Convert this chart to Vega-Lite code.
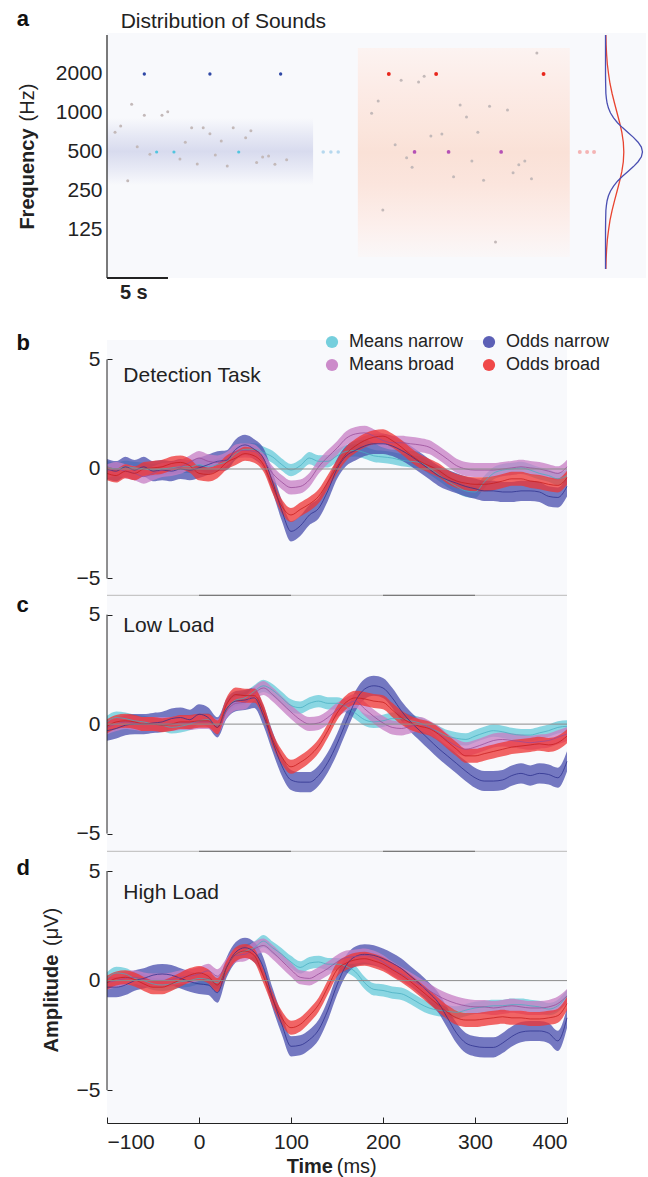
{
"$schema":"https://vega.github.io/schema/vega-lite/v6.json",
"autosize":{"type":"none"},
"padding":{"left":107,"top":33,"right":541,"bottom":1144},
"background":"white",
"config":{"font":"Liberation Sans","view":{"stroke":null},
"axis":{"labelFont":"Liberation Sans","labelColor":"#222","domainColor":"#222","tickColor":"#222","grid":false},
"legend":{"orient":"none","legendX":216,"legendY":300,"columns":2,"symbolType":"circle","symbolSize":150,"symbolStrokeWidth":0,"symbolOpacity":0.9,"labelFontSize":18,"labelColor":"#222","labelOffset":8,"columnPadding":16,"rowPadding":5,"padding":0,"labelLimit":300}},
"datasets":{
"err":[{"s":"Means narrow","e":0.28},{"s":"Odds narrow","e":0.46},{"s":"Means broad","e":0.32},{"s":"Odds broad","e":0.32}],
"dots":[
{"t":0.66,"f":709,"k":"tone"},{"t":1.12,"f":794,"k":"tone"},{"t":1.7,"f":300,"k":"tone"},{"t":2.02,"f":1166,"k":"tone"},{"t":2.48,"f":549,"k":"tone"},{"t":3.06,"f":960,"k":"tone"},{"t":3.52,"f":480,"k":"tone"},{"t":4.51,"f":960,"k":"tone"},{"t":4.98,"f":1024,"k":"tone"},{"t":5.98,"f":442,"k":"tone"},{"t":6.42,"f":594,"k":"tone"},{"t":6.94,"f":770,"k":"tone"},{"t":7.4,"f":404,"k":"tone"},{"t":7.89,"f":770,"k":"tone"},{"t":8.44,"f":692,"k":"tone"},{"t":8.88,"f":474,"k":"tone"},{"t":9.37,"f":608,"k":"tone"},{"t":9.86,"f":390,"k":"tone"},{"t":10.35,"f":770,"k":"tone"},{"t":11.37,"f":644,"k":"tone"},{"t":11.8,"f":730,"k":"tone"},{"t":12.27,"f":414,"k":"tone"},{"t":12.76,"f":458,"k":"tone"},{"t":13.25,"f":466,"k":"tone"},{"t":13.77,"f":402,"k":"tone"},{"t":14.73,"f":436,"k":"tone"},
{"t":4.07,"f":500,"k":"mean narrow"},{"t":5.49,"f":500,"k":"mean narrow"},{"t":10.8,"f":500,"k":"mean narrow"},
{"t":3.06,"f":2000,"k":"odd narrow"},{"t":8.44,"f":2000,"k":"odd narrow"},{"t":14.24,"f":2000,"k":"odd narrow"},
{"t":17.73,"f":500,"k":"more narrow"},{"t":18.36,"f":500,"k":"more narrow"},{"t":18.96,"f":500,"k":"more narrow"},
{"t":35.25,"f":2904,"k":"tone"},{"t":24.12,"f":1788,"k":"tone"},{"t":25.55,"f":1736,"k":"tone"},{"t":26.01,"f":1920,"k":"tone"},{"t":22.24,"f":1238,"k":"tone"},{"t":21.7,"f":994,"k":"tone"},{"t":28.96,"f":1152,"k":"tone"},{"t":31.37,"f":1126,"k":"tone"},{"t":32.84,"f":1054,"k":"tone"},{"t":29.48,"f":931,"k":"tone"},{"t":26.56,"f":664,"k":"tone"},{"t":27.46,"f":688,"k":"tone"},{"t":30.41,"f":709,"k":"tone"},{"t":23.63,"f":569,"k":"tone"},{"t":24.57,"f":452,"k":"tone"},{"t":25.02,"f":381,"k":"tone"},{"t":29.92,"f":426,"k":"tone"},{"t":28.42,"f":322,"k":"tone"},{"t":30.88,"f":302,"k":"tone"},{"t":33.3,"f":346,"k":"tone"},{"t":33.77,"f":399,"k":"tone"},{"t":34.26,"f":426,"k":"tone"},{"t":34.81,"f":311,"k":"tone"},{"t":22.62,"f":178,"k":"tone"},{"t":31.86,"f":101,"k":"tone"},
{"t":25.22,"f":500,"k":"mean broad"},{"t":28.01,"f":500,"k":"mean broad"},{"t":32.32,"f":500,"k":"mean broad"},
{"t":23.11,"f":2000,"k":"odd broad"},{"t":26.99,"f":2000,"k":"odd broad"},{"t":35.8,"f":2000,"k":"odd broad"},
{"t":38.77,"f":500,"k":"more broad"},{"t":39.37,"f":500,"k":"more broad"},{"t":39.94,"f":500,"k":"more broad"}],
"dens":[
{"c":"narrow","f":62.5,"t":40.88},{"c":"narrow","f":74.3,"t":40.88},{"c":"narrow","f":88.4,"t":40.88},{"c":"narrow","f":105.1,"t":40.88},{"c":"narrow","f":125,"t":40.88},{"c":"narrow","f":148.7,"t":40.89},{"c":"narrow","f":176.8,"t":40.91},{"c":"narrow","f":192.8,"t":40.95},{"c":"narrow","f":210.2,"t":41.01},{"c":"narrow","f":229.3,"t":41.12},{"c":"narrow","f":250,"t":41.29},{"c":"narrow","f":272.6,"t":41.54},{"c":"narrow","f":297.3,"t":41.86},{"c":"narrow","f":324.2,"t":42.27},{"c":"narrow","f":353.6,"t":42.72},{"c":"narrow","f":385.6,"t":43.17},{"c":"narrow","f":420.4,"t":43.55},{"c":"narrow","f":458.5,"t":43.82},{"c":"narrow","f":500,"t":43.91},{"c":"narrow","f":545.3,"t":43.82},{"c":"narrow","f":594.6,"t":43.55},{"c":"narrow","f":648.4,"t":43.17},{"c":"narrow","f":707.1,"t":42.72},{"c":"narrow","f":771.1,"t":42.27},{"c":"narrow","f":840.9,"t":41.86},{"c":"narrow","f":917,"t":41.54},{"c":"narrow","f":1000,"t":41.29},{"c":"narrow","f":1090.5,"t":41.12},{"c":"narrow","f":1189.2,"t":41.01},{"c":"narrow","f":1296.8,"t":40.95},{"c":"narrow","f":1414.2,"t":40.91},{"c":"narrow","f":1681.8,"t":40.89},{"c":"narrow","f":2000,"t":40.88},{"c":"narrow","f":2378.4,"t":40.88},{"c":"narrow","f":2828.4,"t":40.88},{"c":"narrow","f":3363.6,"t":40.88},{"c":"narrow","f":4000,"t":40.88},
{"c":"broad","f":62.5,"t":40.91},{"c":"broad","f":74.3,"t":40.93},{"c":"broad","f":88.4,"t":40.97},{"c":"broad","f":105.1,"t":41.03},{"c":"broad","f":125,"t":41.13},{"c":"broad","f":148.7,"t":41.25},{"c":"broad","f":176.8,"t":41.42},{"c":"broad","f":210.2,"t":41.62},{"c":"broad","f":250,"t":41.83},{"c":"broad","f":297.3,"t":42.04},{"c":"broad","f":353.6,"t":42.22},{"c":"broad","f":420.4,"t":42.34},{"c":"broad","f":500,"t":42.38},{"c":"broad","f":594.6,"t":42.34},{"c":"broad","f":707.1,"t":42.22},{"c":"broad","f":840.9,"t":42.04},{"c":"broad","f":1000,"t":41.83},{"c":"broad","f":1189.2,"t":41.62},{"c":"broad","f":1414.2,"t":41.42},{"c":"broad","f":1681.8,"t":41.25},{"c":"broad","f":2000,"t":41.13},{"c":"broad","f":2378.4,"t":41.03},{"c":"broad","f":2828.4,"t":40.97},{"c":"broad","f":3363.6,"t":40.93},{"c":"broad","f":4000,"t":40.91}],
"erp":[
{"p":"b","t":-100,"Means narrow":0.1,"Odds narrow":0,"Means broad":-0.1,"Odds broad":-0.2},
{"p":"b","t":-90,"Means narrow":0,"Odds narrow":-0.1,"Means broad":0,"Odds broad":-0.3},
{"p":"b","t":-80,"Means narrow":0.1,"Odds narrow":0.1,"Means broad":-0.1,"Odds broad":-0.1},
{"p":"b","t":-70,"Means narrow":0.05,"Odds narrow":-0.05,"Means broad":-0.2,"Odds broad":-0.2},
{"p":"b","t":-60,"Means narrow":0,"Odds narrow":0.1,"Means broad":-0.35,"Odds broad":0},
{"p":"b","t":-50,"Means narrow":-0.05,"Odds narrow":-0.1,"Means broad":-0.2,"Odds broad":0.05},
{"p":"b","t":-40,"Means narrow":0,"Odds narrow":-0.05,"Means broad":-0.05,"Odds broad":0.1},
{"p":"b","t":-30,"Means narrow":0.05,"Odds narrow":-0.1,"Means broad":0,"Odds broad":0.25},
{"p":"b","t":-20,"Means narrow":0.1,"Odds narrow":0,"Means broad":0.1,"Odds broad":0.3},
{"p":"b","t":-10,"Means narrow":0.1,"Odds narrow":-0.05,"Means broad":0.3,"Odds broad":0.15},
{"p":"b","t":0,"Means narrow":0.2,"Odds narrow":0.05,"Means broad":0.5,"Odds broad":-0.2},
{"p":"b","t":10,"Means narrow":0.1,"Odds narrow":0.2,"Means broad":0.35,"Odds broad":-0.25},
{"p":"b","t":20,"Means narrow":0.2,"Odds narrow":0.35,"Means broad":0.3,"Odds broad":-0.1},
{"p":"b","t":30,"Means narrow":0.35,"Odds narrow":0.4,"Means broad":0.45,"Odds broad":0.3},
{"p":"b","t":40,"Means narrow":0.7,"Odds narrow":0.9,"Means broad":0.8,"Odds broad":0.5},
{"p":"b","t":50,"Means narrow":0.9,"Odds narrow":1.1,"Means broad":0.85,"Odds broad":0.7},
{"p":"b","t":60,"Means narrow":0.9,"Odds narrow":0.9,"Means broad":0.8,"Odds broad":0.6},
{"p":"b","t":70,"Means narrow":0.75,"Odds narrow":0.5,"Means broad":0.4,"Odds broad":0.2},
{"p":"b","t":80,"Means narrow":0.55,"Odds narrow":-0.6,"Means broad":-0.2,"Odds broad":-0.8},
{"p":"b","t":90,"Means narrow":0.2,"Odds narrow":-1.9,"Means broad":-0.6,"Odds broad":-1.7},
{"p":"b","t":100,"Means narrow":-0.05,"Odds narrow":-2.85,"Means broad":-0.85,"Odds broad":-2.1},
{"p":"b","t":110,"Means narrow":0.15,"Odds narrow":-2.6,"Means broad":-0.8,"Odds broad":-1.85},
{"p":"b","t":120,"Means narrow":0.5,"Odds narrow":-2.1,"Means broad":-0.5,"Odds broad":-1.6},
{"p":"b","t":130,"Means narrow":0.35,"Odds narrow":-1.8,"Means broad":0.1,"Odds broad":-1.25},
{"p":"b","t":140,"Means narrow":0.35,"Odds narrow":-1,"Means broad":0.55,"Odds broad":-0.6},
{"p":"b","t":150,"Means narrow":0.6,"Odds narrow":0,"Means broad":0.95,"Odds broad":0.1},
{"p":"b","t":160,"Means narrow":0.8,"Odds narrow":0.6,"Means broad":1.4,"Odds broad":0.7},
{"p":"b","t":170,"Means narrow":0.85,"Odds narrow":0.85,"Means broad":1.6,"Odds broad":1.05},
{"p":"b","t":180,"Means narrow":0.75,"Odds narrow":1.05,"Means broad":1.65,"Odds broad":1.3},
{"p":"b","t":190,"Means narrow":0.6,"Odds narrow":1.15,"Means broad":1.5,"Odds broad":1.45},
{"p":"b","t":200,"Means narrow":0.55,"Odds narrow":1.15,"Means broad":1.3,"Odds broad":1.5},
{"p":"b","t":210,"Means narrow":0.5,"Odds narrow":1.05,"Means broad":1.2,"Odds broad":1.3},
{"p":"b","t":220,"Means narrow":0.4,"Odds narrow":0.85,"Means broad":1.2,"Odds broad":1},
{"p":"b","t":230,"Means narrow":0.35,"Odds narrow":0.6,"Means broad":1.15,"Odds broad":0.65},
{"p":"b","t":240,"Means narrow":0.3,"Odds narrow":0.3,"Means broad":1.1,"Odds broad":0.35},
{"p":"b","t":250,"Means narrow":0.05,"Odds narrow":0,"Means broad":1,"Odds broad":0.15},
{"p":"b","t":260,"Means narrow":-0.25,"Odds narrow":-0.3,"Means broad":0.75,"Odds broad":-0.05},
{"p":"b","t":270,"Means narrow":-0.55,"Odds narrow":-0.5,"Means broad":0.45,"Odds broad":-0.35},
{"p":"b","t":280,"Means narrow":-0.8,"Odds narrow":-0.65,"Means broad":0.15,"Odds broad":-0.55},
{"p":"b","t":290,"Means narrow":-1,"Odds narrow":-0.8,"Means broad":0,"Odds broad":-0.65},
{"p":"b","t":300,"Means narrow":-1.05,"Odds narrow":-0.9,"Means broad":-0.05,"Odds broad":-0.7},
{"p":"b","t":310,"Means narrow":-0.6,"Odds narrow":-1,"Means broad":-0.05,"Odds broad":-0.7},
{"p":"b","t":320,"Means narrow":-0.2,"Odds narrow":-1,"Means broad":-0.05,"Odds broad":-0.65},
{"p":"b","t":330,"Means narrow":-0.05,"Odds narrow":-1.05,"Means broad":0,"Odds broad":-0.55},
{"p":"b","t":340,"Means narrow":0,"Odds narrow":-1.05,"Means broad":0.05,"Odds broad":-0.45},
{"p":"b","t":350,"Means narrow":0.05,"Odds narrow":-1,"Means broad":0.1,"Odds broad":-0.45},
{"p":"b","t":360,"Means narrow":-0.05,"Odds narrow":-1,"Means broad":0.05,"Odds broad":-0.55},
{"p":"b","t":370,"Means narrow":-0.2,"Odds narrow":-1.05,"Means broad":0,"Odds broad":-0.6},
{"p":"b","t":380,"Means narrow":-0.3,"Odds narrow":-1.25,"Means broad":-0.1,"Odds broad":-0.7},
{"p":"b","t":390,"Means narrow":-0.45,"Odds narrow":-1.3,"Means broad":-0.2,"Odds broad":-0.75},
{"p":"b","t":400,"Means narrow":-0.3,"Odds narrow":-0.8,"Means broad":0.1,"Odds broad":-0.4},
{"p":"c","t":-100,"Means narrow":0.1,"Odds narrow":-0.3,"Means broad":-0.15,"Odds broad":-0.1},
{"p":"c","t":-90,"Means narrow":0.3,"Odds narrow":-0.2,"Means broad":0,"Odds broad":0.1},
{"p":"c","t":-80,"Means narrow":0.25,"Odds narrow":-0.05,"Means broad":0.1,"Odds broad":0.15},
{"p":"c","t":-70,"Means narrow":0.15,"Odds narrow":0,"Means broad":0.05,"Odds broad":0.1},
{"p":"c","t":-60,"Means narrow":0.1,"Odds narrow":0,"Means broad":0,"Odds broad":0},
{"p":"c","t":-50,"Means narrow":0,"Odds narrow":0.05,"Means broad":0,"Odds broad":0},
{"p":"c","t":-40,"Means narrow":-0.05,"Odds narrow":0.1,"Means broad":0,"Odds broad":-0.05},
{"p":"c","t":-30,"Means narrow":-0.15,"Odds narrow":0.25,"Means broad":0,"Odds broad":0},
{"p":"c","t":-20,"Means narrow":-0.1,"Odds narrow":0.3,"Means broad":0.05,"Odds broad":0.1},
{"p":"c","t":-10,"Means narrow":0,"Odds narrow":0.2,"Means broad":0.05,"Odds broad":0.1},
{"p":"c","t":0,"Means narrow":0.15,"Odds narrow":0.45,"Means broad":0.1,"Odds broad":0.15},
{"p":"c","t":10,"Means narrow":0.2,"Odds narrow":0.3,"Means broad":0.1,"Odds broad":0.15},
{"p":"c","t":20,"Means narrow":-0.1,"Odds narrow":-0.15,"Means broad":-0.1,"Odds broad":-0.15},
{"p":"c","t":30,"Means narrow":0.7,"Odds narrow":0.7,"Means broad":0.6,"Odds broad":0.9},
{"p":"c","t":40,"Means narrow":1.1,"Odds narrow":1.05,"Means broad":0.95,"Odds broad":1.35},
{"p":"c","t":50,"Means narrow":1.2,"Odds narrow":1.1,"Means broad":1,"Odds broad":1.3},
{"p":"c","t":60,"Means narrow":1.5,"Odds narrow":1.2,"Means broad":1.4,"Odds broad":1.3},
{"p":"c","t":70,"Means narrow":1.75,"Odds narrow":0.4,"Means broad":1.65,"Odds broad":0.6},
{"p":"c","t":80,"Means narrow":1.55,"Odds narrow":-0.8,"Means broad":1.35,"Odds broad":-0.7},
{"p":"c","t":90,"Means narrow":1.2,"Odds narrow":-1.9,"Means broad":0.95,"Odds broad":-1.5},
{"p":"c","t":100,"Means narrow":0.85,"Odds narrow":-2.55,"Means broad":0.55,"Odds broad":-1.95},
{"p":"c","t":110,"Means narrow":0.75,"Odds narrow":-2.65,"Means broad":0.2,"Odds broad":-1.75},
{"p":"c","t":120,"Means narrow":0.95,"Odds narrow":-2.65,"Means broad":0,"Odds broad":-1.45},
{"p":"c","t":130,"Means narrow":1.05,"Odds narrow":-2.35,"Means broad":0.05,"Odds broad":-1},
{"p":"c","t":140,"Means narrow":0.95,"Odds narrow":-1.75,"Means broad":0.3,"Odds broad":-0.3},
{"p":"c","t":150,"Means narrow":0.95,"Odds narrow":-0.9,"Means broad":0.65,"Odds broad":0.5},
{"p":"c","t":160,"Means narrow":0.8,"Odds narrow":0.1,"Means broad":0.9,"Odds broad":1},
{"p":"c","t":170,"Means narrow":0.5,"Odds narrow":1.05,"Means broad":1.05,"Odds broad":1.2},
{"p":"c","t":180,"Means narrow":0.2,"Odds narrow":1.6,"Means broad":0.7,"Odds broad":1.15},
{"p":"c","t":190,"Means narrow":0.1,"Odds narrow":1.75,"Means broad":0.35,"Odds broad":1.05},
{"p":"c","t":200,"Means narrow":0.15,"Odds narrow":1.65,"Means broad":0.05,"Odds broad":1},
{"p":"c","t":210,"Means narrow":0.25,"Odds narrow":1.2,"Means broad":-0.15,"Odds broad":0.65},
{"p":"c","t":220,"Means narrow":0.25,"Odds narrow":0.6,"Means broad":-0.2,"Odds broad":0.3},
{"p":"c","t":230,"Means narrow":0.15,"Odds narrow":0.1,"Means broad":-0.1,"Odds broad":0.05},
{"p":"c","t":240,"Means narrow":0.05,"Odds narrow":-0.3,"Means broad":0,"Odds broad":-0.1},
{"p":"c","t":250,"Means narrow":-0.15,"Odds narrow":-0.7,"Means broad":-0.15,"Odds broad":-0.2},
{"p":"c","t":260,"Means narrow":-0.35,"Odds narrow":-1.1,"Means broad":-0.4,"Odds broad":-0.45},
{"p":"c","t":270,"Means narrow":-0.55,"Odds narrow":-1.45,"Means broad":-0.75,"Odds broad":-0.8},
{"p":"c","t":280,"Means narrow":-0.65,"Odds narrow":-1.8,"Means broad":-1,"Odds broad":-1.15},
{"p":"c","t":290,"Means narrow":-0.7,"Odds narrow":-2.15,"Means broad":-1.15,"Odds broad":-1.45},
{"p":"c","t":300,"Means narrow":-0.55,"Odds narrow":-2.45,"Means broad":-1.05,"Odds broad":-1.45},
{"p":"c","t":310,"Means narrow":-0.4,"Odds narrow":-2.6,"Means broad":-0.9,"Odds broad":-1.35},
{"p":"c","t":320,"Means narrow":-0.3,"Odds narrow":-2.6,"Means broad":-0.75,"Odds broad":-1.25},
{"p":"c","t":330,"Means narrow":-0.35,"Odds narrow":-2.55,"Means broad":-0.7,"Odds broad":-1.15},
{"p":"c","t":340,"Means narrow":-0.45,"Odds narrow":-2.35,"Means broad":-0.75,"Odds broad":-1.05},
{"p":"c","t":350,"Means narrow":-0.5,"Odds narrow":-2.25,"Means broad":-0.8,"Odds broad":-1},
{"p":"c","t":360,"Means narrow":-0.5,"Odds narrow":-2.35,"Means broad":-0.85,"Odds broad":-0.95},
{"p":"c","t":370,"Means narrow":-0.4,"Odds narrow":-2.25,"Means broad":-0.8,"Odds broad":-0.9},
{"p":"c","t":380,"Means narrow":-0.3,"Odds narrow":-2.3,"Means broad":-0.75,"Odds broad":-0.95},
{"p":"c","t":390,"Means narrow":-0.15,"Odds narrow":-2.45,"Means broad":-0.6,"Odds broad":-0.85},
{"p":"c","t":400,"Means narrow":-0.1,"Odds narrow":-1.7,"Means broad":-0.45,"Odds broad":-0.55},
{"p":"d","t":-100,"Means narrow":0.1,"Odds narrow":-0.3,"Means broad":-0.1,"Odds broad":-0.1},
{"p":"d","t":-90,"Means narrow":0.35,"Odds narrow":-0.3,"Means broad":0,"Odds broad":0.1},
{"p":"d","t":-80,"Means narrow":0.3,"Odds narrow":-0.2,"Means broad":0.1,"Odds broad":0.15},
{"p":"d","t":-70,"Means narrow":0.1,"Odds narrow":0,"Means broad":0.15,"Odds broad":0.05},
{"p":"d","t":-60,"Means narrow":0,"Odds narrow":0.1,"Means broad":0.05,"Odds broad":-0.15},
{"p":"d","t":-50,"Means narrow":-0.15,"Odds narrow":0.25,"Means broad":0,"Odds broad":-0.3},
{"p":"d","t":-40,"Means narrow":-0.2,"Odds narrow":0.3,"Means broad":0,"Odds broad":-0.3},
{"p":"d","t":-30,"Means narrow":-0.15,"Odds narrow":0.25,"Means broad":0.05,"Odds broad":-0.15},
{"p":"d","t":-20,"Means narrow":-0.05,"Odds narrow":0.1,"Means broad":0.15,"Odds broad":0.05},
{"p":"d","t":-10,"Means narrow":0,"Odds narrow":-0.05,"Means broad":0.2,"Odds broad":0.25},
{"p":"d","t":0,"Means narrow":0.1,"Odds narrow":-0.15,"Means broad":0.3,"Odds broad":0.35},
{"p":"d","t":10,"Means narrow":0.05,"Odds narrow":-0.2,"Means broad":0.45,"Odds broad":0.2},
{"p":"d","t":20,"Means narrow":-0.1,"Odds narrow":-0.55,"Means broad":0.2,"Odds broad":-0.2},
{"p":"d","t":30,"Means narrow":0.6,"Odds narrow":0.6,"Means broad":0.7,"Odds broad":0.6},
{"p":"d","t":40,"Means narrow":1.2,"Odds narrow":1.3,"Means broad":1.15,"Odds broad":1.2},
{"p":"d","t":50,"Means narrow":1.35,"Odds narrow":1.5,"Means broad":1.2,"Odds broad":1.35},
{"p":"d","t":60,"Means narrow":1.5,"Odds narrow":1.3,"Means broad":1.45,"Odds broad":1.15},
{"p":"d","t":70,"Means narrow":1.8,"Odds narrow":0.6,"Means broad":1.6,"Odds broad":0.2},
{"p":"d","t":80,"Means narrow":1.5,"Odds narrow":-0.8,"Means broad":1.3,"Odds broad":-0.85},
{"p":"d","t":90,"Means narrow":1.2,"Odds narrow":-2,"Means broad":0.9,"Odds broad":-1.7},
{"p":"d","t":100,"Means narrow":0.85,"Odds narrow":-3,"Means broad":0.5,"Odds broad":-2.15},
{"p":"d","t":110,"Means narrow":0.6,"Odds narrow":-2.95,"Means broad":0.15,"Odds broad":-2},
{"p":"d","t":120,"Means narrow":0.8,"Odds narrow":-2.7,"Means broad":0.1,"Odds broad":-1.6},
{"p":"d","t":130,"Means narrow":0.85,"Odds narrow":-2.25,"Means broad":0.3,"Odds broad":-1.1},
{"p":"d","t":140,"Means narrow":0.75,"Odds narrow":-1.35,"Means broad":0.55,"Odds broad":-0.3},
{"p":"d","t":150,"Means narrow":0.75,"Odds narrow":-0.2,"Means broad":0.85,"Odds broad":0.5},
{"p":"d","t":160,"Means narrow":0.65,"Odds narrow":0.7,"Means broad":1.05,"Odds broad":0.8},
{"p":"d","t":170,"Means narrow":0.4,"Odds narrow":1.1,"Means broad":1.1,"Odds broad":0.95},
{"p":"d","t":180,"Means narrow":-0.1,"Odds narrow":1.2,"Means broad":1.15,"Odds broad":1},
{"p":"d","t":190,"Means narrow":-0.4,"Odds narrow":1.15,"Means broad":1.05,"Odds broad":0.9},
{"p":"d","t":200,"Means narrow":-0.45,"Odds narrow":1,"Means broad":0.85,"Odds broad":0.75},
{"p":"d","t":210,"Means narrow":-0.55,"Odds narrow":0.8,"Means broad":0.55,"Odds broad":0.5},
{"p":"d","t":220,"Means narrow":-0.6,"Odds narrow":0.55,"Means broad":0.3,"Odds broad":0.25},
{"p":"d","t":230,"Means narrow":-0.8,"Odds narrow":0.2,"Means broad":0.05,"Odds broad":-0.05},
{"p":"d","t":240,"Means narrow":-1.05,"Odds narrow":-0.15,"Means broad":-0.2,"Odds broad":-0.4},
{"p":"d","t":250,"Means narrow":-1.25,"Odds narrow":-0.55,"Means broad":-0.45,"Odds broad":-0.75},
{"p":"d","t":260,"Means narrow":-1.35,"Odds narrow":-1,"Means broad":-0.7,"Odds broad":-1.1},
{"p":"d","t":270,"Means narrow":-1.4,"Odds narrow":-1.7,"Means broad":-0.9,"Odds broad":-1.45},
{"p":"d","t":280,"Means narrow":-1.45,"Odds narrow":-2.4,"Means broad":-1.05,"Odds broad":-1.7},
{"p":"d","t":290,"Means narrow":-1.35,"Odds narrow":-2.85,"Means broad":-1.15,"Odds broad":-1.8},
{"p":"d","t":300,"Means narrow":-1.25,"Odds narrow":-3,"Means broad":-1.2,"Odds broad":-1.8},
{"p":"d","t":310,"Means narrow":-1.2,"Odds narrow":-3.05,"Means broad":-1.2,"Odds broad":-1.75},
{"p":"d","t":320,"Means narrow":-1.15,"Odds narrow":-3.05,"Means broad":-1.25,"Odds broad":-1.7},
{"p":"d","t":330,"Means narrow":-1.15,"Odds narrow":-2.85,"Means broad":-1.2,"Odds broad":-1.65},
{"p":"d","t":340,"Means narrow":-1.1,"Odds narrow":-2.55,"Means broad":-1.15,"Odds broad":-1.7},
{"p":"d","t":350,"Means narrow":-1.1,"Odds narrow":-2.35,"Means broad":-1.2,"Odds broad":-1.7},
{"p":"d","t":360,"Means narrow":-1.15,"Odds narrow":-2.3,"Means broad":-1.25,"Odds broad":-1.75},
{"p":"d","t":370,"Means narrow":-1.2,"Odds narrow":-2.3,"Means broad":-1.25,"Odds broad":-1.75},
{"p":"d","t":380,"Means narrow":-1.3,"Odds narrow":-2.4,"Means broad":-1.2,"Odds broad":-1.7},
{"p":"d","t":390,"Means narrow":-1.15,"Odds narrow":-2.75,"Means broad":-1.05,"Odds broad":-1.6},
{"p":"d","t":400,"Means narrow":-0.7,"Odds narrow":-1.7,"Means broad":-0.7,"Odds broad":-1.05}
]},
"spacing":0,
"bounds":"flush",
"vconcat":[
{"width":539,"height":307,
"layer":[
{"data":{"values":[{}]},"mark":{"type":"rect","color":"#f8f9fc"},
 "encoding":{"x":{"datum":0,"type":"quantitative","scale":{"domain":[0,44.2],"nice":false,"zero":false},"axis":null},"x2":{"datum":44.2},
 "y":{"datum":53.3,"type":"quantitative","scale":{"type":"log","base":2,"domain":[17.67,4145],"nice":false},"axis":{"values":[125,250,500,1000,2000],"format":"d","domain":false,"ticks":false,"labelFontSize":21,"labelPadding":5,"title":null}},"y2":{"datum":4145}}},
{"data":{"values":[{}]},"mark":{"type":"rect","fill":{"gradient":"linear","x1":0,"y1":0,"x2":0,"y2":1,"stops":[{"offset":0,"color":"#f8f9fc"},{"offset":0.25,"color":"#e7e9f5"},{"offset":0.5,"color":"#d8dbee"},{"offset":0.75,"color":"#e7e9f5"},{"offset":1,"color":"#f8f9fc"}]}},
 "encoding":{"x":{"datum":0,"type":"quantitative"},"x2":{"datum":16.9},"y":{"datum":278,"type":"quantitative"},"y2":{"datum":915}}},
{"data":{"values":[{}]},"mark":{"type":"rect","fill":{"gradient":"linear","x1":0,"y1":0,"x2":0,"y2":1,"stops":[{"offset":0,"color":"#fcf3f1"},{"offset":0.2,"color":"#fcebe6"},{"offset":0.4,"color":"#fbe5dc"},{"offset":0.5,"color":"#fae1d7"},{"offset":0.65,"color":"#fbe5dd"},{"offset":0.85,"color":"#fcefec"},{"offset":1,"color":"#faf7f8"}]}},
 "encoding":{"x":{"datum":20.57,"type":"quantitative"},"x2":{"datum":37.95},"y":{"datum":77.4,"type":"quantitative"},"y2":{"datum":3175}}},
{"data":{"values":[{}]},"mark":{"type":"rule","color":"#222","strokeWidth":1.2},
 "encoding":{"x":{"datum":0,"type":"quantitative"},"y":{"datum":53.3,"type":"quantitative"},"y2":{"datum":4000}}},
{"data":{"values":[{}]},"mark":{"type":"rule","color":"#222","strokeWidth":2},
 "encoding":{"x":{"datum":0,"type":"quantitative"},"x2":{"datum":5},"y":{"datum":53.3,"type":"quantitative"}}},
{"data":{"name":"dots"},"mark":{"type":"circle","opacity":1},
 "encoding":{"x":{"field":"t","type":"quantitative","title":null},"y":{"field":"f","type":"quantitative","title":null},
 "fill":{"field":"k","type":"nominal","scale":{"domain":["tone","mean narrow","odd narrow","more narrow","mean broad","odd broad","more broad"],"range":["#c3b9b9","#52c5df","#2f48a6","#b6d8ee","#b551b5","#e8261c","#f4b4b4"]},"legend":null},
 "size":{"field":"k","type":"nominal","scale":{"domain":["tone","mean narrow","odd narrow","more narrow","mean broad","odd broad","more broad"],"range":[9,16,16,16,16,16,16]},"legend":null}}},
{"data":{"name":"dens"},"transform":[{"filter":"datum.c === 'broad'"}],"mark":{"type":"line","color":"#e8432f","strokeWidth":1.3},
 "encoding":{"x":{"field":"t","type":"quantitative","title":null},"y":{"field":"f","type":"quantitative","title":null},"order":{"field":"f","type":"quantitative"}}},
{"data":{"name":"dens"},"transform":[{"filter":"datum.c === 'narrow'"}],"mark":{"type":"line","color":"#4a4fb2","strokeWidth":1.3},
 "encoding":{"x":{"field":"t","type":"quantitative","title":null},"y":{"field":"f","type":"quantitative","title":null},"order":{"field":"f","type":"quantitative"}}},
{"data":{"values":[{}]},"mark":{"type":"text","text":"a","fontWeight":"bold","fontSize":22,"align":"left","baseline":"middle","color":"#111"},
 "encoding":{"x":{"datum":-7.4,"type":"quantitative"},"y":{"datum":5300,"type":"quantitative"}}},
{"data":{"values":[{}]},"mark":{"type":"text","text":"Distribution of Sounds","fontSize":21,"align":"left","baseline":"middle","color":"#222"},
 "encoding":{"x":{"datum":1.12,"type":"quantitative"},"y":{"datum":5066,"type":"quantitative"}}},
{"data":{"values":[{}]},"mark":{"type":"text","text":"Frequency","fontWeight":"bold","fontSize":20,"angle":270,"align":"center","baseline":"middle","color":"#222"},
 "encoding":{"x":{"datum":-6.5,"type":"quantitative"},"y":{"datum":309,"type":"quantitative"}}},
{"data":{"values":[{}]},"mark":{"type":"text","text":"(Hz)","fontSize":20,"angle":270,"align":"center","baseline":"middle","color":"#222"},
 "encoding":{"x":{"datum":-6.5,"type":"quantitative"},"y":{"datum":1203,"type":"quantitative"}}},
{"data":{"values":[{}]},"mark":{"type":"text","text":"5 s","fontWeight":"bold","fontSize":20,"align":"center","baseline":"middle","color":"#222"},
 "encoding":{"x":{"datum":2.2,"type":"quantitative"},"y":{"datum":40.8,"type":"quantitative"}}}
]},
{"width":460,"height":256,"view":{"fill":"#f8f9fc","stroke":null},
"layer":[
{"data":{"name":"erp"},"transform":[{"filter":"datum.p === 'b'"},{"fold":["Means narrow","Odds narrow","Means broad","Odds broad"],"as":["s","m"]},{"lookup":"s","from":{"data":{"name":"err"},"key":"s","fields":["e"]}}],
 "mark":{"type":"errorband","interpolate":"monotone","band":{"opacity":0.76}},
 "encoding":{"x":{"field":"t","type":"quantitative","scale":{"domain":[-100,400],"nice":false,"zero":false},"axis":null,"title":null},
 "y":{"field":"m","type":"quantitative","scale":{"domain":[-5.8,5.89],"nice":false,"zero":false},"axis":{"values":[-5,0,5],"format":"d","domain":false,"tickSize":-5,"labelPadding":12,"labelFontSize":21,"title":null},"title":null},
 "yError":{"field":"e"},
 "color":{"field":"s","type":"nominal","scale":{"domain":["Means narrow","Odds narrow","Means broad","Odds broad"],"range":["#66cad9","#4a4fae","#c67ec4","#ee3535"]},"legend":{"title":null,"values":["Means narrow","Means broad","Odds narrow","Odds broad"]}}}},
{"data":{"name":"erp"},"transform":[{"filter":"datum.p === 'b'"},{"fold":["Means narrow","Odds narrow","Means broad","Odds broad"],"as":["s","m"]}],
 "mark":{"type":"line","interpolate":"monotone","strokeWidth":1,"opacity":0.75},
 "encoding":{"x":{"field":"t","type":"quantitative","title":null},"y":{"field":"m","type":"quantitative","title":null},
 "stroke":{"field":"s","type":"nominal","scale":{"domain":["Means narrow","Odds narrow","Means broad","Odds broad"],"range":["#47adc0","#2b2f8c","#974a97","#c41c1c"]},"legend":null}}},
{"data":{"values":[{}]},"mark":{"type":"rule","color":"#8c8c8c","strokeWidth":1},"encoding":{"x":{"datum":-100,"type":"quantitative"},"x2":{"datum":400},"y":{"datum":0,"type":"quantitative"}}},
{"data":{"values":[{}]},"mark":{"type":"rule","color":"#222","strokeWidth":1},"encoding":{"x":{"datum":-100,"type":"quantitative"},"y":{"datum":-5,"type":"quantitative"},"y2":{"datum":5}}},
{"data":{"values":[{}]},"mark":{"type":"rule","color":"#c6c6c6","strokeWidth":2.5},"encoding":{"x":{"datum":-100,"type":"quantitative"},"x2":{"datum":400},"y":{"datum":-5.8,"type":"quantitative"}}},
{"data":{"values":[{}]},"mark":{"type":"rule","color":"#7a7a7a","strokeWidth":2.5},"encoding":{"x":{"datum":0,"type":"quantitative"},"x2":{"datum":100},"y":{"datum":-5.8,"type":"quantitative"}}},
{"data":{"values":[{}]},"mark":{"type":"rule","color":"#7a7a7a","strokeWidth":2.5},"encoding":{"x":{"datum":200,"type":"quantitative"},"x2":{"datum":300},"y":{"datum":-5.8,"type":"quantitative"}}},
{"data":{"values":[{}]},"mark":{"type":"text","text":"Detection Task","fontSize":21,"align":"left","baseline":"middle","color":"#222"},"encoding":{"x":{"datum":-82.3,"type":"quantitative"},"y":{"datum":4.25,"type":"quantitative"}}},
{"data":{"values":[{}]},"mark":{"type":"text","text":"b","fontWeight":"bold","fontSize":22,"align":"left","baseline":"middle","color":"#111"},"encoding":{"x":{"datum":-198.4,"type":"quantitative"},"y":{"datum":5.75,"type":"quantitative"}}}
]},
{"width":460,"height":256,"view":{"fill":"#f8f9fc","stroke":null},
"layer":[
{"data":{"name":"erp"},"transform":[{"filter":"datum.p === 'c'"},{"fold":["Means narrow","Odds narrow","Means broad","Odds broad"],"as":["s","m"]},{"lookup":"s","from":{"data":{"name":"err"},"key":"s","fields":["e"]}}],
 "mark":{"type":"errorband","interpolate":"monotone","band":{"opacity":0.76}},
 "encoding":{"x":{"field":"t","type":"quantitative","scale":{"domain":[-100,400],"nice":false,"zero":false},"axis":null,"title":null},
 "y":{"field":"m","type":"quantitative","scale":{"domain":[-5.84,5.85],"nice":false,"zero":false},"axis":{"values":[-5,0,5],"format":"d","domain":false,"tickSize":-5,"labelPadding":12,"labelFontSize":21,"title":null},"title":null},
 "yError":{"field":"e"},
 "color":{"field":"s","type":"nominal","scale":{"domain":["Means narrow","Odds narrow","Means broad","Odds broad"],"range":["#66cad9","#4a4fae","#c67ec4","#ee3535"]},"legend":{"title":null,"values":["Means narrow","Means broad","Odds narrow","Odds broad"]}}}},
{"data":{"name":"erp"},"transform":[{"filter":"datum.p === 'c'"},{"fold":["Means narrow","Odds narrow","Means broad","Odds broad"],"as":["s","m"]}],
 "mark":{"type":"line","interpolate":"monotone","strokeWidth":1,"opacity":0.75},
 "encoding":{"x":{"field":"t","type":"quantitative","title":null},"y":{"field":"m","type":"quantitative","title":null},
 "stroke":{"field":"s","type":"nominal","scale":{"domain":["Means narrow","Odds narrow","Means broad","Odds broad"],"range":["#47adc0","#2b2f8c","#974a97","#c41c1c"]},"legend":null}}},
{"data":{"values":[{}]},"mark":{"type":"rule","color":"#8c8c8c","strokeWidth":1},"encoding":{"x":{"datum":-100,"type":"quantitative"},"x2":{"datum":400},"y":{"datum":0,"type":"quantitative"}}},
{"data":{"values":[{}]},"mark":{"type":"rule","color":"#222","strokeWidth":1},"encoding":{"x":{"datum":-100,"type":"quantitative"},"y":{"datum":-5,"type":"quantitative"},"y2":{"datum":5}}},
{"data":{"values":[{}]},"mark":{"type":"rule","color":"#c6c6c6","strokeWidth":2.5},"encoding":{"x":{"datum":-100,"type":"quantitative"},"x2":{"datum":400},"y":{"datum":-5.84,"type":"quantitative"}}},
{"data":{"values":[{}]},"mark":{"type":"rule","color":"#7a7a7a","strokeWidth":2.5},"encoding":{"x":{"datum":0,"type":"quantitative"},"x2":{"datum":100},"y":{"datum":-5.84,"type":"quantitative"}}},
{"data":{"values":[{}]},"mark":{"type":"rule","color":"#7a7a7a","strokeWidth":2.5},"encoding":{"x":{"datum":200,"type":"quantitative"},"x2":{"datum":300},"y":{"datum":-5.84,"type":"quantitative"}}},
{"data":{"values":[{}]},"mark":{"type":"text","text":"Low Load","fontSize":21,"align":"left","baseline":"middle","color":"#222"},"encoding":{"x":{"datum":-82.3,"type":"quantitative"},"y":{"datum":4.48,"type":"quantitative"}}},
{"data":{"values":[{}]},"mark":{"type":"text","text":"c","fontWeight":"bold","fontSize":22,"align":"left","baseline":"middle","color":"#111"},"encoding":{"x":{"datum":-198.4,"type":"quantitative"},"y":{"datum":5.44,"type":"quantitative"}}}
]},
{"width":460,"height":271,"view":{"fill":"#f8f9fc","stroke":null},
"layer":[
{"data":{"name":"erp"},"transform":[{"filter":"datum.p === 'd'"},{"fold":["Means narrow","Odds narrow","Means broad","Odds broad"],"as":["s","m"]},{"lookup":"s","from":{"data":{"name":"err"},"key":"s","fields":["e"]}}],
 "mark":{"type":"errorband","interpolate":"monotone","band":{"opacity":0.76}},
 "encoding":{"x":{"field":"t","type":"quantitative","scale":{"domain":[-100,400],"nice":false,"zero":false},"axis":{"values":[-100,0,100,200,300,400],"format":"d","tickSize":-6,"labelPadding":14,"labelFontSize":21,"title":null},"title":null},
 "y":{"field":"m","type":"quantitative","scale":{"domain":[-6.5,5.87],"nice":false,"zero":false},"axis":{"values":[-5,0,5],"format":"d","domain":false,"tickSize":-5,"labelPadding":12,"labelFontSize":21,"title":null},"title":null},
 "yError":{"field":"e"},
 "color":{"field":"s","type":"nominal","scale":{"domain":["Means narrow","Odds narrow","Means broad","Odds broad"],"range":["#66cad9","#4a4fae","#c67ec4","#ee3535"]},"legend":{"title":null,"values":["Means narrow","Means broad","Odds narrow","Odds broad"]}}}},
{"data":{"name":"erp"},"transform":[{"filter":"datum.p === 'd'"},{"fold":["Means narrow","Odds narrow","Means broad","Odds broad"],"as":["s","m"]}],
 "mark":{"type":"line","interpolate":"monotone","strokeWidth":1,"opacity":0.75},
 "encoding":{"x":{"field":"t","type":"quantitative","title":null},"y":{"field":"m","type":"quantitative","title":null},
 "stroke":{"field":"s","type":"nominal","scale":{"domain":["Means narrow","Odds narrow","Means broad","Odds broad"],"range":["#47adc0","#2b2f8c","#974a97","#c41c1c"]},"legend":null}}},
{"data":{"values":[{}]},"mark":{"type":"rule","color":"#8c8c8c","strokeWidth":1},"encoding":{"x":{"datum":-100,"type":"quantitative"},"x2":{"datum":400},"y":{"datum":0,"type":"quantitative"}}},
{"data":{"values":[{}]},"mark":{"type":"rule","color":"#222","strokeWidth":1},"encoding":{"x":{"datum":-100,"type":"quantitative"},"y":{"datum":-5,"type":"quantitative"},"y2":{"datum":5}}},
{"data":{"values":[{}]},"mark":{"type":"text","text":"High Load","fontSize":21,"align":"left","baseline":"middle","color":"#222"},"encoding":{"x":{"datum":-82.3,"type":"quantitative"},"y":{"datum":3.99,"type":"quantitative"}}},
{"data":{"values":[{}]},"mark":{"type":"text","text":"d","fontWeight":"bold","fontSize":22,"align":"left","baseline":"middle","color":"#111"},"encoding":{"x":{"datum":-198.4,"type":"quantitative"},"y":{"datum":5.14,"type":"quantitative"}}},
{"data":{"values":[{}]},"mark":{"type":"text","text":"Amplitude","fontWeight":"bold","fontSize":20,"angle":270,"align":"center","baseline":"middle","color":"#222"},"encoding":{"x":{"datum":-160.1,"type":"quantitative"},"y":{"datum":-1.05,"type":"quantitative"}}},
{"data":{"values":[{}]},"mark":{"type":"text","text":"(μV)","fontSize":20,"angle":270,"align":"center","baseline":"middle","color":"#222"},"encoding":{"x":{"datum":-160.1,"type":"quantitative"},"y":{"datum":2.45,"type":"quantitative"}}},
{"data":{"values":[{}]},"mark":{"type":"text","text":"Time","fontWeight":"bold","fontSize":20,"align":"left","baseline":"middle","color":"#222"},"encoding":{"x":{"datum":95.3,"type":"quantitative"},"y":{"datum":-8.51,"type":"quantitative"}}},
{"data":{"values":[{}]},"mark":{"type":"text","text":"(ms)","fontSize":20,"align":"left","baseline":"middle","color":"#222"},"encoding":{"x":{"datum":149.7,"type":"quantitative"},"y":{"datum":-8.51,"type":"quantitative"}}}
]}
]}
